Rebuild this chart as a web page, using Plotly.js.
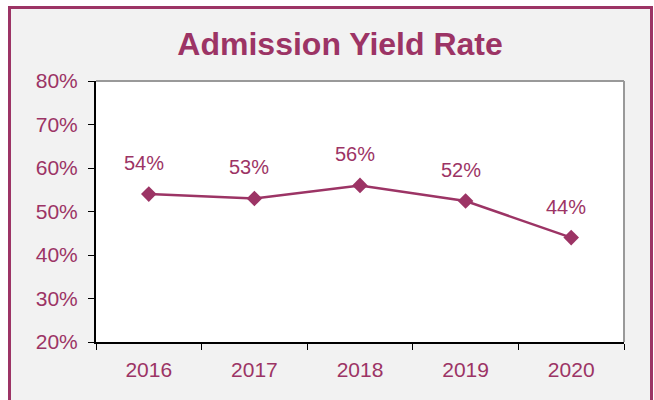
<!DOCTYPE html>
<html>
<head>
<meta charset="utf-8">
<script src="https://cdn.plot.ly/plotly-3.0.1.min.js"></script>
<style>
  html, body { margin: 0; padding: 0; background: #ffffff; }
  #wrap { position: relative; width: 654px; height: 400px; overflow: hidden; }
  #frame { position: absolute; left: 8px; top: 6px; width: 639px; height: 420px;
           border: 3px solid #9c3465; background: #f2f2f2; }
  #chart { position: absolute; left: 0; top: 0; width: 654px; height: 400px; }
</style>
</head>
<body>
<div id="wrap">
  <div id="frame"></div>
  <div id="chart"></div>
</div>
<script>
const years = ['2016', '2017', '2018', '2019', '2020'];
const yieldRate = [0.54, 0.53, 0.56, 0.524, 0.44];
const labels = ['54%', '53%', '56%', '52%', '44%'];
const yTicks = [0.2, 0.3, 0.4, 0.5, 0.6, 0.7, 0.8];
const yTickText = ['20%', '30%', '40%', '50%', '60%', '70%', '80%'];

const maroon = '#9c3465';
const font = 'Arial, "Liberation Sans", sans-serif';

const trace = {
  x: years,
  y: yieldRate,
  type: 'scatter',
  mode: 'lines+markers',
  line: { color: maroon, width: 2.5 },
  marker: { symbol: 'diamond', size: 12, color: maroon },
  hoverinfo: 'skip'
};

const annotations = years.map((yr, i) => ({
  x: i, y: yieldRate[i], xref: 'x', yref: 'y',
  text: labels[i], showarrow: false,
  yanchor: 'bottom', yshift: 18, xshift: -5,
  font: { family: font, size: 20, color: maroon }
}));

const layout = {
  width: 654, height: 400,
  margin: { l: 96, r: 30, t: 81, b: 58 },
  paper_bgcolor: 'rgba(0,0,0,0)',
  plot_bgcolor: '#ffffff',
  showlegend: false,
  title: {
    text: '<b>Admission Yield Rate</b>',
    x: 0.52, xanchor: 'center', xref: 'container',
    y: 0.89, yanchor: 'middle', yref: 'container',
    font: { family: font, size: 32, color: maroon }
  },
  xaxis: {
    type: 'category',
    tickson: 'boundaries',
    ticks: 'outside', ticklen: 6, tickcolor: '#000000', tickwidth: 1,
    showline: true, linecolor: '#000000', linewidth: 2,
    showgrid: false, zeroline: false,
    ticklabelstandoff: 8,
    tickfont: { family: font, size: 21, color: maroon },
    range: [-0.5, 4.5],
    fixedrange: true
  },
  yaxis: {
    range: [0.2, 0.8],
    tickvals: yTicks, ticktext: yTickText,
    ticks: 'outside', ticklen: 6, tickcolor: '#000000', tickwidth: 1,
    showline: true, linecolor: '#000000', linewidth: 2,
    showgrid: false, zeroline: false,
    ticklabelstandoff: 6,
    tickfont: { family: font, size: 21, color: maroon },
    fixedrange: true
  },
  shapes: [
    { type: 'line', xref: 'paper', yref: 'paper', x0: 0, x1: 1, y0: 1, y1: 1,
      line: { color: '#999999', width: 2 } },
    { type: 'line', xref: 'paper', yref: 'paper', x0: 1, x1: 1, y0: 0, y1: 1,
      line: { color: '#999999', width: 2 } }
  ],
  annotations: annotations
};

Plotly.newPlot('chart', [trace], layout, { displayModeBar: false, staticPlot: true });
</script>
</body>
</html>
